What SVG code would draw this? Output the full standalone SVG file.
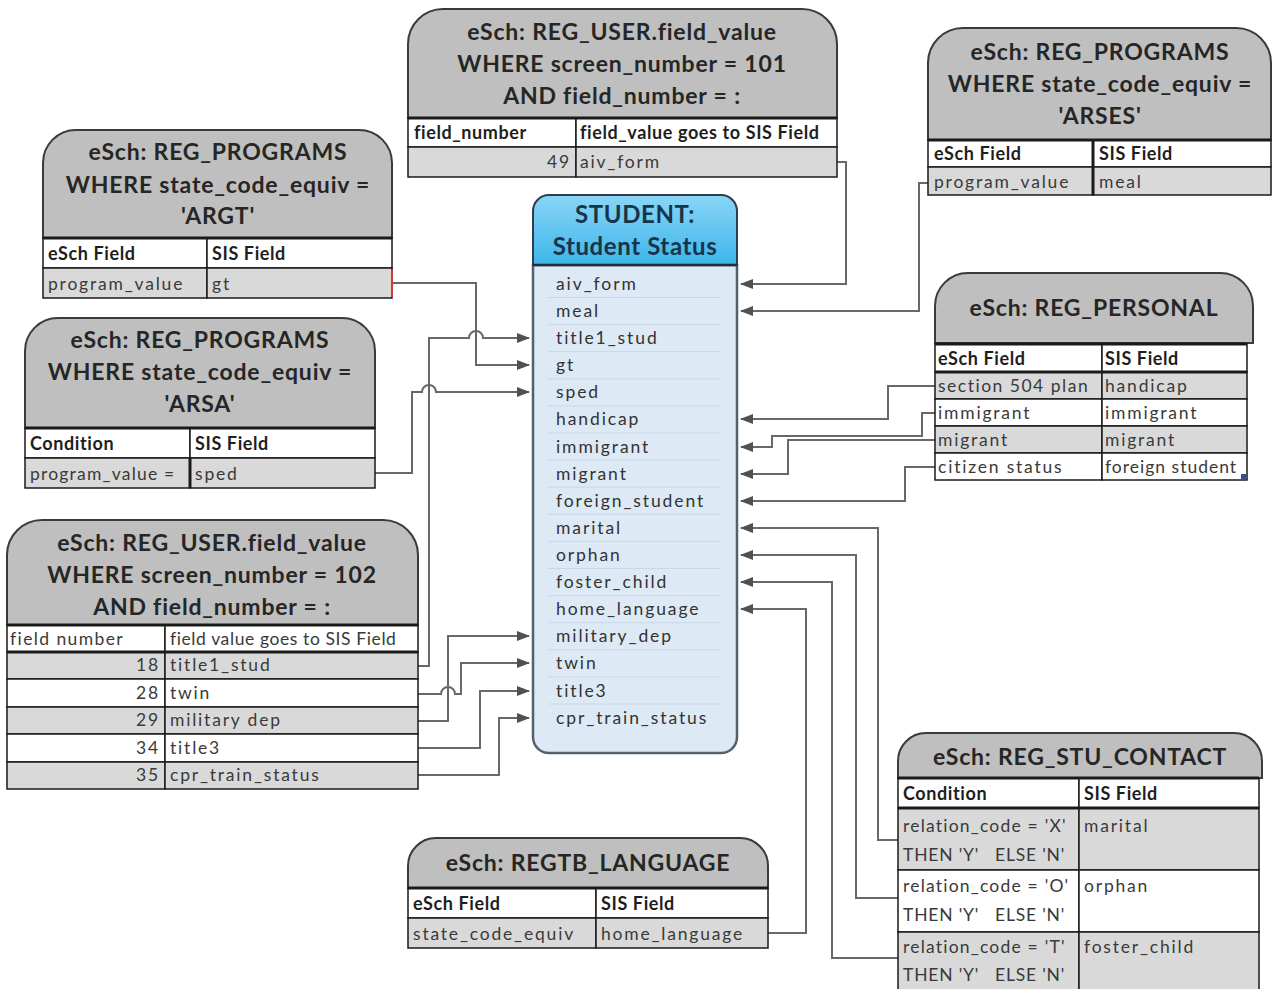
<svg xmlns="http://www.w3.org/2000/svg" width="1272" height="989" viewBox="0 0 1272 989">
<defs>
<marker id="ah" markerWidth="13" markerHeight="10" refX="12" refY="5" orient="auto" markerUnits="userSpaceOnUse"><path d="M0,0 L13,5 L0,10 Z" fill="#505050"/></marker>
<linearGradient id="blue" x1="0" y1="0" x2="0" y2="1"><stop offset="0" stop-color="#8ad6f7"/><stop offset="1" stop-color="#3cb5ea"/></linearGradient>
<style>
.hd{fill:#bfbfbf;stroke:#3a3a3a;stroke-width:2}
.tt{font-family:Lato,'Liberation Sans',sans-serif;font-weight:bold;font-size:23px;fill:#262626;text-anchor:middle;letter-spacing:0.8px}
.g{fill:#d9d9d9;stroke:#1a1a1a;stroke-width:1.5}
.w{fill:#ffffff;stroke:#1a1a1a;stroke-width:1.5}
.c{font-family:Lato,'Liberation Sans',sans-serif;font-size:17.5px;fill:#3a3a3a;letter-spacing:1.8px}
.cw{letter-spacing:1.8px}
.cr{letter-spacing:1.2px}
.ch{font-family:Lato,'Liberation Sans',sans-serif;font-weight:bold;font-size:18px;fill:#1e1e1e;letter-spacing:0.6px}
.r{text-anchor:end}
.sep{stroke:#1a1a1a;stroke-width:3}
.cn{fill:none;stroke:#686868;stroke-width:2}
.ar{marker-end:url(#ah)}
.it{font-family:Lato,'Liberation Sans',sans-serif;font-size:17.5px;fill:#333;letter-spacing:1.9px}
.il{stroke:#c9d8e6;stroke-width:1}
.st{font-family:Lato,'Liberation Sans',sans-serif;font-weight:bold;font-size:24px;fill:#17344a;text-anchor:middle;letter-spacing:0.6px}
</style>
</defs>

<g id="connectors">
<path class="cn ar" d="M837,162 L846,162 L846,284 L741,284"/>
<path class="cn ar" d="M928,183 L919,183 L919,311 L741,311"/>
<path class="cn ar" d="M935,386 L888,386 L888,419 L741,419"/>
<path class="cn ar" d="M935,413 L922,413 L922,436 L772,436 L772,447 L741,447"/>
<path class="cn ar" d="M935,440 L788,440 L788,474 L741,474"/>
<path class="cn ar" d="M935,467 L905,467 L905,501 L741,501"/>
<path class="cn ar" d="M898,840 L878,840 L878,528 L741,528"/>
<path class="cn ar" d="M898,898 L856,898 L856,555 L741,555"/>
<path class="cn ar" d="M898,958 L832,958 L832,582 L741,582"/>
<path class="cn ar" d="M768,933 L806,933 L806,609 L741,609"/>
<path class="cn ar" d="M418,666 L429,666 L429,338 L469,338 A7,7 0 0 1 483,338 L529,338"/>
<path class="cn ar" d="M392,283 L476,283 L476,365 L529,365"/>
<path class="cn ar" d="M375,473 L412,473 L412,392 L422,392 A7,7 0 0 1 436,392 L529,392"/>
<path class="cn ar" d="M418,721 L448,721 L448,636 L529,636"/>
<path class="cn ar" d="M418,694 L441,694 A7,7 0 0 1 455,694 L461,694 L461,663 L529,663"/>
<path class="cn ar" d="M418,748 L480,748 L480,691 L529,691"/>
<path class="cn ar" d="M418,775 L499,775 L499,718 L529,718"/>
</g>

<g id="t-reguser101">
<path class="hd" d="M408,118 L408,44 A35,35 0 0 1 443,9 L802,9 A35,35 0 0 1 837,44 L837,118 Z"/>
<text class="tt" x="622" y="40">eSch: REG_USER.field_value</text>
<text class="tt" x="622" y="72">WHERE screen_number = 101</text>
<text class="tt" x="622" y="104">AND field_number = :</text>
<rect class="w" x="408" y="118" width="168" height="29"/><rect class="w" x="576" y="118" width="261" height="29"/>
<rect class="g" x="408" y="147" width="168" height="30"/><rect class="g" x="576" y="147" width="261" height="30"/>
<line class="sep" x1="408" y1="118" x2="837" y2="118"/>
<text class="ch" x="414" y="139">field_number</text><text class="ch" x="580" y="139">field_value goes to SIS Field</text>
<text class="c r" x="571" y="168">49</text><text class="c" x="580" y="168">aiv_form</text>
</g>

<g id="t-arses">
<path class="hd" d="M928,140 L928,63 A35,35 0 0 1 963,28 L1236,28 A35,35 0 0 1 1271,63 L1271,140 Z"/>
<text class="tt" x="1100" y="60">eSch: REG_PROGRAMS</text>
<text class="tt" x="1100" y="92">WHERE state_code_equiv =</text>
<text class="tt" x="1100" y="124">'ARSES'</text>
<rect class="w" x="928" y="140" width="165" height="27"/><rect class="w" x="1093" y="140" width="178" height="27"/>
<rect class="g" x="928" y="167" width="165" height="28"/><rect class="g" x="1093" y="167" width="178" height="28"/>
<line class="sep" x1="928" y1="140" x2="1271" y2="140"/><line class="sep" x1="1093" y1="140" x2="1093" y2="195"/>
<text class="ch" x="934" y="160">eSch Field</text><text class="ch" x="1099" y="160">SIS Field</text>
<text class="c" x="934" y="188">program_value</text><text class="c" x="1099" y="188">meal</text>
</g>

<g id="t-argt">
<path class="hd" d="M43,238 L43,163 A33,33 0 0 1 76,130 L359,130 A33,33 0 0 1 392,163 L392,238 Z"/>
<text class="tt" x="218" y="160">eSch: REG_PROGRAMS</text>
<text class="tt" x="218" y="193">WHERE state_code_equiv =</text>
<text class="tt" x="218" y="224">'ARGT'</text>
<rect class="w" x="43" y="238" width="164" height="30"/><rect class="w" x="207" y="238" width="185" height="30"/>
<rect class="g" x="43" y="268" width="164" height="30"/><rect class="g" x="207" y="268" width="185" height="30"/>
<line class="sep" x1="43" y1="238" x2="392" y2="238"/>
<line x1="392" y1="270" x2="392" y2="297" stroke="#d23a3a" stroke-width="2"/>
<text class="ch" x="48" y="260">eSch Field</text><text class="ch" x="212" y="260">SIS Field</text>
<text class="c" x="48" y="290">program_value</text><text class="c" x="212" y="290">gt</text>
</g>

<g id="t-arsa">
<path class="hd" d="M25,428 L25,351 A33,33 0 0 1 58,318 L342,318 A33,33 0 0 1 375,351 L375,428 Z"/>
<text class="tt" x="200" y="348">eSch: REG_PROGRAMS</text>
<text class="tt" x="200" y="380">WHERE state_code_equiv =</text>
<text class="tt" x="200" y="412">'ARSA'</text>
<rect class="w" x="25" y="428" width="165" height="30"/><rect class="w" x="190" y="428" width="185" height="30"/>
<rect class="g" x="25" y="458" width="165" height="30"/><rect class="g" x="190" y="458" width="185" height="30"/>
<line class="sep" x1="25" y1="428" x2="375" y2="428"/><line class="sep" x1="190" y1="458" x2="190" y2="488"/>
<text class="ch" x="30" y="450">Condition</text><text class="ch" x="195" y="450">SIS Field</text>
<text class="c cr" x="30" y="480">program_value =</text><text class="c" x="195" y="480">sped</text>
</g>

<g id="t-reguser102">
<path class="hd" d="M7,625 L7,555 A35,35 0 0 1 42,520 L383,520 A35,35 0 0 1 418,555 L418,625 Z"/>
<text class="tt" x="212" y="551">eSch: REG_USER.field_value</text>
<text class="tt" x="212" y="583">WHERE screen_number = 102</text>
<text class="tt" x="212" y="615">AND field_number = :</text>
<rect class="w" x="7" y="625" width="158" height="27"/><rect class="w" x="165" y="625" width="253" height="27"/>
<rect class="g" x="7" y="652" width="158" height="27"/><rect class="g" x="165" y="652" width="253" height="27"/>
<rect class="w" x="7" y="679" width="158" height="28"/><rect class="w" x="165" y="679" width="253" height="28"/>
<rect class="g" x="7" y="707" width="158" height="27"/><rect class="g" x="165" y="707" width="253" height="27"/>
<rect class="w" x="7" y="734" width="158" height="28"/><rect class="w" x="165" y="734" width="253" height="28"/>
<rect class="g" x="7" y="762" width="158" height="27"/><rect class="g" x="165" y="762" width="253" height="27"/>
<line class="sep" x1="7" y1="625" x2="418" y2="625"/><line class="sep" x1="7" y1="652" x2="418" y2="652"/>
<text class="c" x="10" y="645" style="letter-spacing:1.4px">field number</text><text class="c" x="170" y="645" style="letter-spacing:0.6px">field value goes to SIS Field</text>
<text class="c r" x="160" y="671">18</text><text class="c" x="170" y="671">title1_stud</text>
<text class="c r" x="160" y="699">28</text><text class="c" x="170" y="699">twin</text>
<text class="c r" x="160" y="726">29</text><text class="c" x="170" y="726">military dep</text>
<text class="c r" x="160" y="754">34</text><text class="c" x="170" y="754">title3</text>
<text class="c r" x="160" y="781">35</text><text class="c" x="170" y="781">cpr_train_status</text>
</g>

<g id="t-regpersonal">
<path class="hd" d="M935,343 L935,306 A33,33 0 0 1 968,273 L1220,273 A33,33 0 0 1 1253,306 L1253,343 Z"/>
<text class="tt" x="1094" y="316">eSch: REG_PERSONAL</text>
<rect class="w" x="935" y="344" width="167" height="28"/><rect class="w" x="1102" y="344" width="145" height="28"/>
<rect class="g" x="935" y="372" width="167" height="27"/><rect class="g" x="1102" y="372" width="145" height="27"/>
<rect class="w" x="935" y="399" width="167" height="27"/><rect class="w" x="1102" y="399" width="145" height="27"/>
<rect class="g" x="935" y="426" width="167" height="27"/><rect class="g" x="1102" y="426" width="145" height="27"/>
<rect class="w" x="935" y="453" width="167" height="27"/><rect class="w" x="1102" y="453" width="145" height="27"/>
<line class="sep" x1="935" y1="344" x2="1247" y2="344"/><line class="sep" x1="935" y1="372" x2="1247" y2="372"/>
<text class="ch" x="938" y="365">eSch Field</text><text class="ch" x="1105" y="365">SIS Field</text>
<text class="c cw" x="938" y="392" style="letter-spacing:1.5px">section 504 plan</text><text class="c cw" x="1105" y="392">handicap</text>
<text class="c cw" x="938" y="419">immigrant</text><text class="c cw" x="1105" y="419">immigrant</text>
<text class="c cw" x="938" y="446">migrant</text><text class="c cw" x="1105" y="446">migrant</text>
<text class="c cw" x="938" y="473">citizen status</text><text class="c" x="1105" y="473" style="letter-spacing:1px">foreign student</text>
<rect x="1241" y="474" width="5" height="5" fill="#3a4c9a"/>
</g>

<g id="t-stucontact">
<path class="hd" d="M898,778 L898,761 A28,28 0 0 1 926,733 L1234,733 A28,28 0 0 1 1262,761 L1262,778 Z"/>
<text class="tt" x="1080" y="765">eSch: REG_STU_CONTACT</text>
<rect class="w" x="898" y="778" width="181" height="30"/><rect class="w" x="1079" y="778" width="180" height="30"/>
<rect class="g" x="898" y="808" width="181" height="62"/><rect class="g" x="1079" y="808" width="180" height="62"/>
<rect class="w" x="898" y="870" width="181" height="62"/><rect class="w" x="1079" y="870" width="180" height="62"/>
<rect class="g" x="898" y="932" width="181" height="62"/><rect class="g" x="1079" y="932" width="180" height="62"/>
<line class="sep" x1="898" y1="778" x2="1259" y2="778"/><line class="sep" x1="898" y1="808" x2="1259" y2="808"/>
<text class="ch" x="903" y="800">Condition</text><text class="ch" x="1084" y="800">SIS Field</text>
<text class="c cr" x="903" y="832">relation_code = 'X'</text><text class="c" x="1084" y="832">marital</text>
<text class="c" x="903" y="861" style="letter-spacing:0.8px">THEN 'Y'</text><text class="c" x="995" y="861" style="letter-spacing:0.8px">ELSE 'N'</text>
<text class="c cr" x="903" y="892">relation_code = 'O'</text><text class="c" x="1084" y="892">orphan</text>
<text class="c" x="903" y="921" style="letter-spacing:0.8px">THEN 'Y'</text><text class="c" x="995" y="921" style="letter-spacing:0.8px">ELSE 'N'</text>
<text class="c cr" x="903" y="953">relation_code = 'T'</text><text class="c" x="1084" y="953">foster_child</text>
<text class="c" x="903" y="981" style="letter-spacing:0.8px">THEN 'Y'</text><text class="c" x="995" y="981" style="letter-spacing:0.8px">ELSE 'N'</text>
</g>

<g id="t-language">
<path class="hd" d="M408,888 L408,866 A28,28 0 0 1 436,838 L740,838 A28,28 0 0 1 768,866 L768,888 Z"/>
<text class="tt" x="588" y="871">eSch: REGTB_LANGUAGE</text>
<rect class="w" x="408" y="888" width="188" height="30"/><rect class="w" x="596" y="888" width="172" height="30"/>
<rect class="g" x="408" y="918" width="188" height="30"/><rect class="g" x="596" y="918" width="172" height="30"/>
<line class="sep" x1="408" y1="888" x2="768" y2="888"/>
<text class="ch" x="413" y="910">eSch Field</text><text class="ch" x="601" y="910">SIS Field</text>
<text class="c" x="413" y="940">state_code_equiv</text><text class="c" x="601" y="940">home_language</text>
</g>

<g id="student">
<path d="M533,265 L533,737 A16,16 0 0 0 549,753 L721,753 A16,16 0 0 0 737,737 L737,265 Z" fill="#dde9f5" stroke="#55606b" stroke-width="2.5"/>
<path d="M533,265 L533,211 A16,16 0 0 1 549,195 L721,195 A16,16 0 0 1 737,211 L737,265 Z" fill="url(#blue)" stroke="#2d3e4e" stroke-width="2"/>
<line x1="533" y1="265" x2="737" y2="265" stroke="#1f2f3c" stroke-width="2.5"/>
<text class="st" x="635" y="223">STUDENT:</text>
<text class="st" x="635" y="255">Student Status</text>
<g>
<line class="il" x1="548" y1="297.5" x2="720" y2="297.5"/>
<line class="il" x1="548" y1="324.6" x2="720" y2="324.6"/>
<line class="il" x1="548" y1="351.7" x2="720" y2="351.7"/>
<line class="il" x1="548" y1="378.8" x2="720" y2="378.8"/>
<line class="il" x1="548" y1="405.9" x2="720" y2="405.9"/>
<line class="il" x1="548" y1="433" x2="720" y2="433"/>
<line class="il" x1="548" y1="460.1" x2="720" y2="460.1"/>
<line class="il" x1="548" y1="487.2" x2="720" y2="487.2"/>
<line class="il" x1="548" y1="514.3" x2="720" y2="514.3"/>
<line class="il" x1="548" y1="541.4" x2="720" y2="541.4"/>
<line class="il" x1="548" y1="568.5" x2="720" y2="568.5"/>
<line class="il" x1="548" y1="595.6" x2="720" y2="595.6"/>
<line class="il" x1="548" y1="622.7" x2="720" y2="622.7"/>
<line class="il" x1="548" y1="649.8" x2="720" y2="649.8"/>
<line class="il" x1="548" y1="676.9" x2="720" y2="676.9"/>
<line class="il" x1="548" y1="704" x2="720" y2="704"/>
</g>
<text class="it" x="556" y="290">aiv_form</text>
<text class="it" x="556" y="317">meal</text>
<text class="it" x="556" y="344">title1_stud</text>
<text class="it" x="556" y="371">gt</text>
<text class="it" x="556" y="398">sped</text>
<text class="it" x="556" y="425">handicap</text>
<text class="it" x="556" y="453">immigrant</text>
<text class="it" x="556" y="480">migrant</text>
<text class="it" x="556" y="507">foreign_student</text>
<text class="it" x="556" y="534">marital</text>
<text class="it" x="556" y="561">orphan</text>
<text class="it" x="556" y="588">foster_child</text>
<text class="it" x="556" y="615">home_language</text>
<text class="it" x="556" y="642">military_dep</text>
<text class="it" x="556" y="669">twin</text>
<text class="it" x="556" y="697">title3</text>
<text class="it" x="556" y="724">cpr_train_status</text>
</g>
</svg>
